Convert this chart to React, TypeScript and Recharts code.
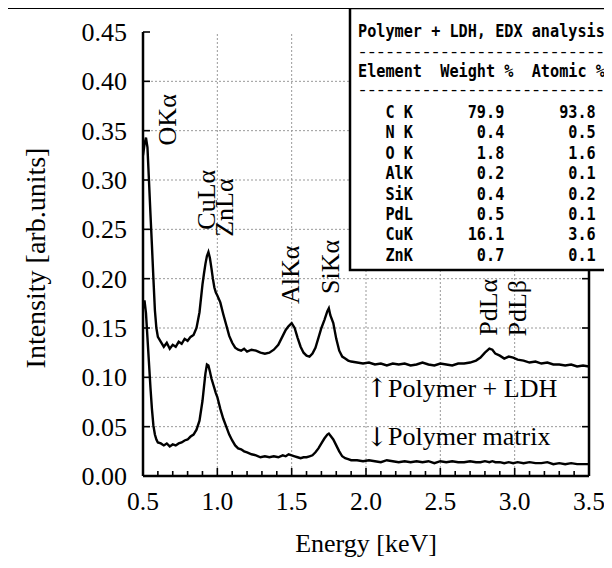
import React from 'react';
import { LineChart, Line, XAxis, YAxis, ReferenceLine, ReferenceDot } from 'recharts';

// ---- data ----
const energy = [0.50,0.51,0.52,0.53,0.54,0.55,0.56,0.57,0.58,0.59,0.60,0.62,0.64,0.66,0.68,0.70,0.72,0.74,0.76,0.78,0.80,0.82,0.84,0.86,0.88,0.90,0.91,0.92,0.93,0.94,0.95,0.96,0.97,0.98,0.99,1.00,1.02,1.04,1.06,1.08,1.10,1.12,1.14,1.16,1.18,1.20,1.23,1.26,1.29,1.32,1.35,1.38,1.41,1.44,1.46,1.48,1.50,1.52,1.54,1.56,1.58,1.60,1.62,1.64,1.66,1.68,1.70,1.72,1.74,1.75,1.76,1.78,1.80,1.82,1.84,1.86,1.88,1.90,1.94,1.98,2.02,2.06,2.10,2.14,2.18,2.22,2.26,2.30,2.34,2.38,2.42,2.46,2.50,2.54,2.58,2.62,2.66,2.70,2.74,2.77,2.80,2.83,2.85,2.87,2.90,2.93,2.96,2.99,3.02,3.06,3.10,3.14,3.18,3.22,3.26,3.30,3.34,3.38,3.42,3.46,3.50];

const polymerLdh = [0.325,0.336,0.343,0.333,0.300,0.266,0.234,0.200,0.168,0.150,0.141,
0.136,0.131,0.135,0.129,0.133,0.131,0.136,0.134,0.139,0.137,0.141,0.143,0.150,0.166,0.194,
0.205,0.215,0.223,0.227,0.221,0.211,0.200,0.191,0.186,0.183,
0.176,0.164,0.153,0.142,0.135,0.130,0.128,0.127,0.129,0.126,
0.128,0.127,0.125,0.124,0.125,0.128,0.133,
0.142,
0.148,0.152,0.155,0.150,0.140,0.131,0.125,0.122,0.121,0.124,0.130,0.140,0.150,0.158,0.167,
0.170,
0.163,0.155,0.139,0.127,0.121,0.119,0.117,0.116,
0.115,0.114,0.115,0.113,0.114,0.112,0.114,0.113,0.114,0.112,0.113,0.115,0.113,0.112,0.114,0.113,0.112,0.114,0.114,0.115,0.117,
0.120,0.125,0.129,
0.128,0.124,
0.122,0.119,0.121,0.120,
0.118,
0.117,0.115,0.116,0.114,0.115,0.113,0.113,0.112,0.113,0.111,0.112,0.111];

const polymerMatrix = [0.170,0.178,0.165,0.140,0.115,0.090,0.068,0.051,0.042,0.037,0.034,
0.033,0.031,0.033,0.030,0.032,0.031,0.033,0.034,0.036,0.037,0.040,0.042,0.047,0.056,0.076,
0.090,0.104,0.113,0.112,0.106,0.099,0.094,0.089,0.084,0.080,
0.068,0.058,0.050,0.042,0.036,0.031,0.028,0.027,0.025,0.024,
0.022,0.021,0.019,0.020,0.019,0.020,0.019,
0.021,
0.020,0.022,0.021,0.020,0.019,0.018,0.019,0.019,0.020,0.021,0.024,0.028,0.033,0.038,0.042,
0.043,
0.041,0.037,0.031,0.025,0.020,0.018,0.017,0.016,
0.016,0.015,0.016,0.015,0.014,0.016,0.015,0.014,0.015,0.014,0.015,0.014,0.015,0.013,0.015,0.014,0.015,0.014,0.014,0.015,0.014,
0.014,0.015,0.014,
0.015,0.014,
0.014,0.013,0.014,0.013,
0.014,
0.013,0.014,0.013,0.013,0.014,0.012,0.013,0.012,0.013,0.012,0.012,0.012];

const xTicks = [0.5,0.6,0.7,0.8,0.9,1.0,1.1,1.2,1.3,1.4,1.5,1.6,1.7,1.8,1.9,2.0,2.1,2.2,2.3,2.4,2.5,2.6,2.7,2.8,2.9,3.0,3.1,3.2,3.3,3.4,3.5];
const xMajor = [0.5,1.0,1.5,2.0,2.5,3.0,3.5];
const xGrid = [1.0,1.5,2.0,2.5,3.0];
const yTicks = [0,0.05,0.10,0.15,0.20,0.25,0.30,0.35,0.40,0.45];
const yGrid = [0.05,0.10,0.15,0.20,0.25,0.30,0.35,0.40];

const tableTitle = 'Polymer + LDH, EDX analysis';
const tableHeader = ['Element', 'Weight %', 'Atomic %'];
const elements = ['C K','N K','O K','AlK','SiK','PdL','CuK','ZnK'];
const weightPct = ['79.9','0.4','1.8','0.2','0.4','0.5','16.1','0.7'];
const atomicPct = ['93.8','0.5','1.6','0.1','0.2','0.1','3.6','0.1'];

const peakNames = ['OKα','CuLα','ZnLα','AlKα','SiKα','PdLα','PdLβ'];
const seriesArrows = ['↑', '↓'];
const seriesNames = ['Polymer + LDH', 'Polymer matrix'];

const data = energy.map((e, i) => ({ e, ldh: polymerLdh[i], matrix: polymerMatrix[i] }));

// ---- styling ----
const SERIF = '"Liberation Serif", "Times New Roman", serif';
const MONO = '"DejaVu Sans Mono", monospace';
const isMajor = (v: number) => xMajor.some((m) => Math.abs(m - v) < 1e-6);

const BottomTick = (p: any) => {
  const v = p.payload.value;
  const major = isMajor(v);
  return (
    <g>
      <line x1={p.x} x2={p.x} y1={p.y} y2={p.y - (major ? 8 : 5)} stroke="#000" strokeWidth={1.6} />
      {major && (
        <text x={p.x} y={p.y + 34} textAnchor="middle" fontFamily={SERIF} fontSize={25.5} fill="#000">
          {v.toFixed(1)}
        </text>
      )}
    </g>
  );
};
const TopTick = (p: any) => {
  const major = isMajor(p.payload.value);
  return <line x1={p.x} x2={p.x} y1={p.y} y2={p.y + (major ? 8 : 5)} stroke="#000" strokeWidth={1.6} />;
};
const LeftTick = (p: any) => (
  <g>
    <line x1={p.x} x2={p.x + 7} y1={p.y} y2={p.y} stroke="#000" strokeWidth={1.6} />
    <text x={p.x - 16} y={p.y} dy="0.35em" textAnchor="end" fontFamily={SERIF} fontSize={26} fill="#000">
      {p.payload.value.toFixed(2)}
    </text>
  </g>
);
const RightTick = (p: any) => (
  <line x1={p.x} x2={p.x - 7} y1={p.y} y2={p.y} stroke="#000" strokeWidth={1.6} />
);

const rotLabel = (txt: string) => (p: any) => (
  <text
    x={p.cx}
    y={p.cy}
    transform={`rotate(-90 ${p.cx} ${p.cy})`}
    textAnchor="middle"
    dominantBaseline="central"
    fontFamily={SERIF}
    fontSize={26}
    fill="#000"
  >
    {txt}
  </text>
);
const seriesLabel = (arrow: string, txt: string) => (p: any) => (
  <g>
    <text x={p.cx} y={p.cy} dominantBaseline="central" fontFamily='"DejaVu Serif", serif' fontSize={26} fill="#000">
      {arrow}
    </text>
    <text x={p.cx + 22} y={p.cy} dominantBaseline="central" fontFamily={SERIF} fontSize={26} fill="#000">
      {txt}
    </text>
  </g>
);

const peakPos: [number, number][] = [
  [0.668, 0.361],
  [0.93, 0.28],
  [1.05, 0.272],
  [1.489, 0.204],
  [1.758, 0.212],
  [2.827, 0.171],
  [3.022, 0.17],
];
const seriesLabelPos: [number, number][] = [
  [2.0, 0.089],
  [2.0, 0.04],
];

const MonoText = ({ x, y, sy = 1.18, children }: any) => (
  <text
    transform={`translate(${x} ${y}) scale(1 ${sy})`}
    x={0}
    y={0}
    xmlSpace="preserve"
    style={{ whiteSpace: 'pre' }}
  >
    {children}
  </text>
);

const headerLine = `${tableHeader[0]}  ${tableHeader[1]}  ${tableHeader[2]}`;
const rowLine = (i: number) => `   ${elements[i]}${weightPct[i].padStart(10, ' ')}${atomicPct[i].padStart(10, ' ')}`;

export default function App() {
  const ax = { xAxisId: 'b', yAxisId: 'l' };
  return (
    <div style={{ position: 'relative', width: 612, height: 568, margin: -8, overflow: 'hidden', background: '#fff' }}>
      <LineChart width={612} height={568} data={data} margin={{ top: 32, right: 0, bottom: 0, left: 0 }}>
        <XAxis
          xAxisId="b"
          dataKey="e"
          type="number"
          domain={[0.5, 3.5]}
          ticks={xTicks}
          interval={0}
          height={92}
          tickSize={0}
          tickMargin={0}
          tickLine={false}
          tick={BottomTick}
          axisLine={{ stroke: '#000', strokeWidth: 2.5 }}
          allowDataOverflow
        />
        <XAxis
          xAxisId="t"
          orientation="top"
          dataKey="e"
          type="number"
          domain={[0.5, 3.5]}
          ticks={xTicks}
          interval={0}
          height={0}
          tickSize={0}
          tickMargin={0}
          tickLine={false}
          tick={TopTick}
          axisLine={{ stroke: '#000', strokeWidth: 2.5 }}
          allowDataOverflow
        />
        <YAxis
          yAxisId="l"
          type="number"
          domain={[0, 0.45]}
          ticks={yTicks}
          interval={0}
          width={143}
          tickSize={0}
          tickMargin={0}
          tickLine={false}
          tick={LeftTick}
          axisLine={{ stroke: '#000', strokeWidth: 2.5 }}
          allowDataOverflow
        />
        <YAxis
          yAxisId="r"
          orientation="right"
          type="number"
          domain={[0, 0.45]}
          ticks={yTicks}
          interval={0}
          width={23}
          tickSize={0}
          tickMargin={0}
          tickLine={false}
          tick={RightTick}
          axisLine={{ stroke: '#000', strokeWidth: 2.5 }}
          allowDataOverflow
        />
        {xGrid.map((g) => (
          <ReferenceLine key={'x' + g} {...ax} x={g} stroke="#999" strokeDasharray="2 2" strokeWidth={1} />
        ))}
        {yGrid.map((g) => (
          <ReferenceLine key={'y' + g} {...ax} y={g} stroke="#999" strokeDasharray="2 2" strokeWidth={1} />
        ))}
        <Line {...ax} dataKey="ldh" type="linear" stroke="#000" strokeWidth={2.4} dot={false} isAnimationActive={false} />
        <Line {...ax} dataKey="matrix" type="linear" stroke="#000" strokeWidth={2.4} dot={false} isAnimationActive={false} />
        {peakNames.map((n, i) => (
          <ReferenceDot key={n} {...ax} x={peakPos[i][0]} y={peakPos[i][1]} r={0} shape={rotLabel(n)} />
        ))}
        {seriesNames.map((n, i) => (
          <ReferenceDot
            key={n}
            {...ax}
            x={seriesLabelPos[i][0]}
            y={seriesLabelPos[i][1]}
            r={0}
            shape={seriesLabel(seriesArrows[i], n)}
          />
        ))}
      </LineChart>
      <svg width={612} height={568} style={{ position: 'absolute', left: 0, top: 0, pointerEvents: 'none' }}>
        <rect x={7} y={8} width={700} height={700} fill="none" stroke="#000" strokeWidth={2} />
        <text
          x={35}
          y={258}
          transform="rotate(-90 35 258)"
          textAnchor="middle"
          dominantBaseline="central"
          fontFamily={SERIF}
          fontSize={28}
        >
          Intensity [arb.units]
        </text>
        <text x={366} y={552} textAnchor="middle" fontFamily={SERIF} fontSize={26}>
          Energy [keV]
        </text>
        <rect x={350} y={8} width={300} height={262} fill="#fff" stroke="#000" strokeWidth={2.5} />
        <g fontFamily={MONO} fontWeight="bold" fontSize={15.2} fill="#000">
          <MonoText x={358} y={37}>{tableTitle}</MonoText>
          <MonoText x={358} y={55} sy={0.6}>{'-'.repeat(27)}</MonoText>
          <MonoText x={358} y={77}>{headerLine}</MonoText>
          <MonoText x={358} y={93} sy={0.6}>{'-'.repeat(27)}</MonoText>
          {elements.map((el, i) => (
            <MonoText key={el} x={358} y={118 + i * 20.4}>{rowLine(i)}</MonoText>
          ))}
        </g>
      </svg>
    </div>
  );
}
